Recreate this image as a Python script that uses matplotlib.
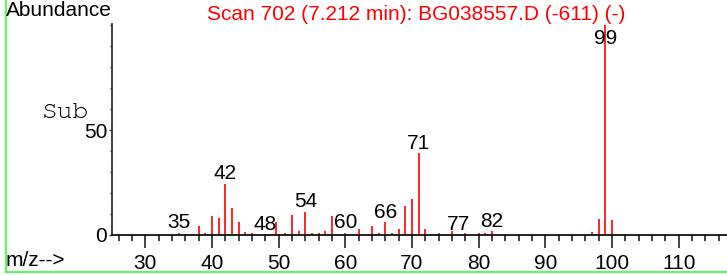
import matplotlib
matplotlib.use("Agg")
import matplotlib.pyplot as plt
from matplotlib.lines import Line2D
from matplotlib.ticker import MultipleLocator, FixedLocator

# ---- data ----
mz = [35, 36, 37, 38, 39, 40, 41, 42, 43, 44, 45, 46, 47, 48, 49.6, 51, 52, 53,
      54, 55, 56, 57, 58, 59, 60, 62, 63, 64, 65, 66, 67, 68, 69, 70, 71, 72,
      73, 74, 76, 77, 78, 80, 81, 82, 97, 98, 99, 100, 101]
abundance = [1.1, 0.3, 0.3, 4.3, 1.1, 9.0, 7.9, 24.4, 12.7, 6.0, 1.3, 1.1, 0.5,
             0.5, 6.3, 1.1, 9.5, 1.9, 11.1, 1.1, 1.1, 1.9, 9.0, 0.3, 1.1, 3.0,
             0.3, 4.3, 1.1, 6.0, 1.1, 3.0, 14.0, 17.1, 39.0, 3.0, 0.3, 1.1, 1.7,
             0.3, 1.1, 1.1, 1.1, 1.7, 1.3, 7.6, 100.0, 7.1, 0.3]
labelled_mz = [35, 42, 48, 54, 60, 66, 71, 77, 82, 99]
x_major = [30, 40, 50, 60, 70, 80, 90, 100, 110]
y_labels = [0, 50]
title = "Scan 702 (7.212 min): BG038557.D (-611) (-)"

plt.rcParams['font.family'] = ['Liberation Sans', 'DejaVu Sans']
FS = 15

W, H = 727, 275
fig = plt.figure(figsize=(W / 100, H / 100), dpi=100)

def fx(px):
    return px / W

def fy(py):
    return 1 - py / H

ax_left, ax_right, ax_bottom, ax_top = 112, 727, 235, 25
ax = fig.add_axes([fx(ax_left), fy(ax_bottom), (ax_right - ax_left) / W,
                   (ax_bottom - ax_top) / H])
ax.set_xlim(25.0, 117.25)
ax.set_ylim(0, 100)
ax.patch.set_alpha(0)

ax.vlines(mz, 0, abundance, colors='#ff0000', linewidth=1.2, clip_on=False)

for spine in ['top', 'right']:
    ax.spines[spine].set_visible(False)
ax.spines['left'].set_color('#333333')
ax.spines['left'].set_linewidth(1.3)
ax.spines['left'].set_bounds(0, 100.5)
ax.spines['bottom'].set_color('#111111')
ax.spines['bottom'].set_linewidth(1.3)

ax.xaxis.set_major_locator(FixedLocator(x_major))
ax.xaxis.set_minor_locator(MultipleLocator(2))
ax.tick_params(axis='x', which='major', direction='out', length=9, width=1.1,
               color='#111111', labelsize=FS, pad=4.5)
ax.tick_params(axis='x', which='minor', direction='out', length=4.5, width=1.1,
               color='#111111')
ax.yaxis.set_major_locator(FixedLocator(y_labels))
ax.yaxis.set_minor_locator(MultipleLocator(10))
ax.tick_params(axis='y', which='major', direction='out', length=2.5, width=1.0,
               color='#333333', labelsize=FS, pad=1)
ax.tick_params(axis='y', which='minor', direction='out', length=1.8, width=1.0,
               color='#333333')

# peak labels
for m in labelled_mz:
    h = abundance[mz.index(m)]
    if h > 90:
        ax.annotate(str(m), xy=(m, h), xytext=(0, -3), textcoords='offset points',
                    ha='center', va='top', fontsize=FS, color='black')
    else:
        ax.annotate(str(m), xy=(m, h), xytext=(0, 3.2), textcoords='offset points',
                    ha='center', va='baseline', fontsize=FS, color='black')

# figure texts
fig.text(fx(6), fy(16), "Abundance", ha='left', va='baseline', fontsize=FS, color='black')
fig.text(fx(416), fy(19.5), title, ha='center', va='baseline', fontsize=FS, color='#ff0000')
fig.text(fx(89), fy(118), "Sub", ha='right', va='baseline', fontsize=19,
         family=['FreeMono', 'Courier Prime', 'DejaVu Sans Mono'], color='black')
fig.text(fx(6), fy(266.5), "m/z-->", ha='left', va='baseline', fontsize=FS, color='black')

# green frame (left and bottom)
green = '#33ff33'
fig.add_artist(Line2D([fx(5.5), fx(5.5)], [fy(0), fy(272)], color=green, linewidth=1.2))
fig.add_artist(Line2D([fx(5.5), fx(727)], [fy(272), fy(272)], color=green, linewidth=1.2))

fig.savefig("out.png", dpi=100)
